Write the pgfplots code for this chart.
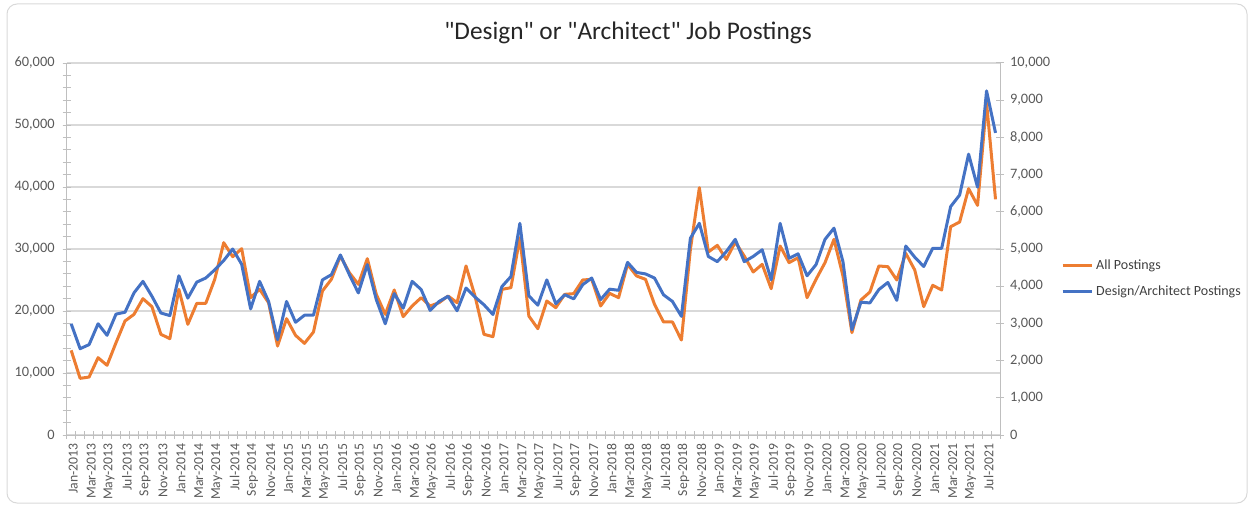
\documentclass[border=0pt]{standalone}
\usepackage{pgfplots}
\pgfplotsset{compat=1.18}
\usepackage{pgfplotstable}
\usepackage{fontspec}
\setmainfont{Carlito}
\newfontfamily\titlefont{Carlito}[Ligatures=TeXOff]
\definecolor{cOrange}{HTML}{ED7D31}
\definecolor{cBlue}{HTML}{4472C4}
\definecolor{cGrid}{HTML}{D9D9D9}
\definecolor{cAxis}{HTML}{BFBFBF}
\definecolor{cText}{HTML}{595959}

\pgfplotstableread{
i all des
0 13660 2990
1 9140 2320
2 9350 2430
3 12470 2990
4 11240 2680
5 14890 3250
6 18390 3300
7 19460 3820
8 21990 4130
9 20700 3730
10 16240 3280
11 15540 3210
12 23490 4280
13 17850 3680
14 21240 4110
15 21240 4220
16 25110 4440
17 31020 4690
18 28760 5000
19 30050 4590
20 22150 3390
21 23490 4130
22 21340 3590
23 14350 2560
24 18760 3590
25 16080 3030
26 14780 3220
27 16610 3220
28 23230 4170
29 25110 4310
30 28870 4840
31 26180 4310
32 24300 3820
33 28440 4580
34 22690 3640
35 19460 2990
36 23390 3800
37 19090 3410
38 20810 4130
39 22150 3910
40 20810 3350
41 21340 3590
42 22420 3730
43 21340 3340
44 27260 3950
45 22420 3710
46 16240 3500
47 15860 3240
48 23490 3990
49 23760 4260
50 31830 5690
51 19190 3740
52 17150 3490
53 21610 4170
54 20540 3530
55 22690 3770
56 22800 3660
57 25000 4040
58 25110 4220
59 20810 3640
60 22850 3920
61 22150 3890
62 27530 4640
63 25650 4370
64 25110 4330
65 21080 4220
66 18230 3770
67 18230 3590
68 15320 3190
69 29950 5290
70 39890 5690
71 29520 4800
72 30590 4660
73 28330 4930
74 31130 5260
75 28870 4660
76 26290 4800
77 27530 4980
78 23600 4170
79 30480 5690
80 27800 4750
81 28600 4870
82 22150 4280
83 25110 4580
84 27800 5260
85 31560 5560
86 25650 4660
87 16510 2830
88 21770 3570
89 23060 3550
90 27260 3910
91 27150 4100
92 25000 3620
93 29300 5080
94 26610 4780
95 20700 4530
96 24140 5020
97 23390 5020
98 33600 6140
99 34350 6450
100 39730 7550
101 37040 6660
102 53600 9250
103 38010 8120
}\datatable

\pgfplotsset{
  common/.style={
    at={(50pt,54pt)}, anchor=south west,
    width=700pt, height=279pt, scale only axis,
    xmin=-0.5, xmax=103.5, ymin=0,
    axis line style={cAxis, line width=0.75pt},
    tick align=center, major tick length=6pt, minor tick length=6pt,
    tick style={cAxis, line width=0.75pt},
    ticklabel style={font=\fontsize{10.3}{12}\selectfont, text=cText},
    yticklabel style={font=\fontsize{10.8}{12}\selectfont},
    /pgf/number format/fixed,
    /pgf/number format/1000 sep={,},
    /pgf/number format/assume math mode=true,
    scaled y ticks=false,
  }
}

\begin{document}
\begin{tikzpicture}
\useasboundingbox (0,0) rectangle (938.25pt,380.25pt);
\draw[cGrid, line width=0.75pt, rounded corners=7.5pt] (5.25pt,3pt) rectangle (935.25pt,377.25pt);
\node[font=\titlefont\fontsize{19}{22}\selectfont, text=black!85] at (471pt,355.5pt) {"Design" or "Architect" Job Postings};

\begin{axis}[common,
  ymax=60000,
  axis y line*=left, axis x line*=bottom,
  xtick={0,2,...,102},
  xticklabels={Jan-2013,Mar-2013,May-2013,Jul-2013,Sep-2013,Nov-2013,
    Jan-2014,Mar-2014,May-2014,Jul-2014,Sep-2014,Nov-2014,
    Jan-2015,Mar-2015,May-2015,Jul-2015,Sep-2015,Nov-2015,
    Jan-2016,Mar-2016,May-2016,Jul-2016,Sep-2016,Nov-2016,
    Jan-2017,Mar-2017,May-2017,Jul-2017,Sep-2017,Nov-2017,
    Jan-2018,Mar-2018,May-2018,Jul-2018,Sep-2018,Nov-2018,
    Jan-2019,Mar-2019,May-2019,Jul-2019,Sep-2019,Nov-2019,
    Jan-2020,Mar-2020,May-2020,Jul-2020,Sep-2020,Nov-2020,
    Jan-2021,Mar-2021,May-2021,Jul-2021},
  major x tick style={draw=none},
  minor xtick={-0.5,0.5,...,103.5},
  ytick={0,10000,...,60000},
  minor ytick={0,2000,...,60000},
  ymajorgrids, grid style={cGrid, line width=0.9pt},
  xticklabel style={rotate=90, anchor=east, yshift=-1.5pt},
  yticklabel style={xshift=-2.5pt},
]
\addplot[cOrange, line width=2.25pt, line join=round, mark=none] table[x=i, y=all] {\datatable};
\end{axis}

\begin{axis}[common,
  ymax=10000,
  axis y line*=right, axis x line=none,
  ytick={0,1000,...,10000},
  yticklabel style={xshift=1pt},
  legend style={at={(1.061,0.42)}, anchor=west, draw=none, fill=none,
    font=\fontsize{10.5}{12}\selectfont, text=black!75, row sep=6.5pt},
  legend cell align=left,
  legend image code/.code={\draw[#1] (0pt,0pt) -- (22pt,0pt);},
]
\addlegendimage{cOrange, line width=2.25pt}
\addlegendentry{All Postings}
\addplot[cBlue, line width=2.25pt, line join=round, mark=none] table[x=i, y=des] {\datatable};
\addlegendentry{Design/Architect Postings}
\end{axis}
\end{tikzpicture}
\end{document}
